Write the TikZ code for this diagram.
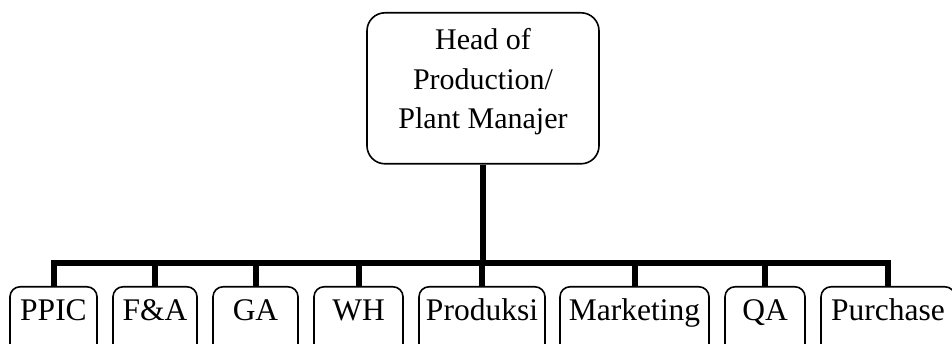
\documentclass[tikz,border=0pt]{standalone}
\usepackage{fontspec}
\setmainfont{Liberation Serif}
\begin{document}
\begin{tikzpicture}[x=1pt,y=-1pt,
  topbox/.style={draw, line width=1.6pt, rounded corners=18pt, align=center,
    font=\fontsize{30}{39.5}\selectfont,
    minimum width=232pt, inner xsep=0pt, inner ysep=0pt, text height=116pt, text depth=35pt, anchor=north},
  unitbox/.style={draw, line width=1.6pt, rounded corners=10pt, inner xsep=0pt, inner ysep=0pt,
    font=\fontsize{31.5}{38}\selectfont,
    text height=34pt, text depth=46pt, anchor=north},
  conn/.style={line width=6pt, line join=miter}]
\clip (0,0) rectangle (952,344);
\node[topbox] (head) at (483,12) {Head of\\Production/\\Plant Manajer};
\node[unitbox, minimum width=87pt] (ppic) at (53.5,286) {PPIC};
\node[unitbox, minimum width=84pt] (fa) at (155,286) {F\&A};
\node[unitbox, minimum width=85pt] (ga) at (255.5,286) {GA};
\node[unitbox, minimum width=89pt] (wh) at (358.5,286) {WH};
\node[unitbox, minimum width=126pt] (prod) at (482,286) {Produksi};
\node[unitbox, minimum width=149pt] (mkt) at (634.5,286) {Marketing};
\node[unitbox, minimum width=80pt] (qa) at (765,286) {QA};
\node[unitbox, minimum width=134pt] (pur) at (888,286) {Purchase};
\coordinate (bar) at (483,263);
\draw[conn] (head.south) -- (bar);
\draw[conn] (ppic.north) -- (ppic.north |- bar) -- (pur.north |- bar) -- (pur.north);
\foreach \n in {fa,ga,wh,prod,mkt,qa}
  \draw[conn] (\n.north) -- (\n.north |- bar);
\end{tikzpicture}
\end{document}
